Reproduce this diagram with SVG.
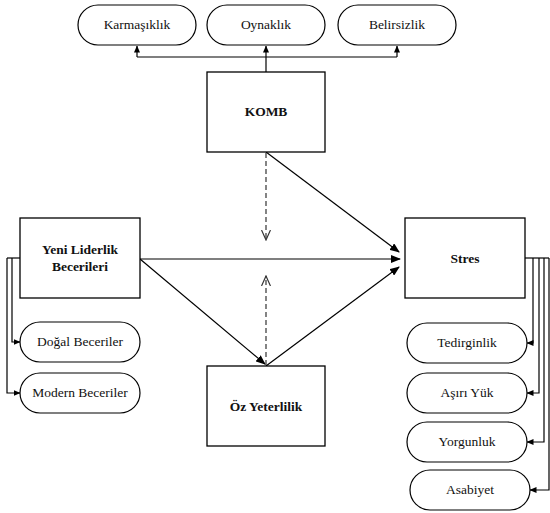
<svg xmlns="http://www.w3.org/2000/svg" width="550" height="513" viewBox="0 0 550 513">
<style>
.box{fill:#fff;stroke:#000;stroke-width:1.3}
.pill{fill:#fff;stroke:#000;stroke-width:1.2}
.b{font-weight:bold}
.ln{fill:none;stroke:#000;stroke-width:1.2}
.ds{fill:none;stroke:#333;stroke-width:1.2;stroke-dasharray:5,3}
</style>
<defs>
<marker id="ah" markerWidth="10" markerHeight="8" refX="9" refY="4" orient="auto" markerUnits="userSpaceOnUse">
<path d="M0,0 L10,4 L0,8 Z" fill="#000"/>
</marker>
<marker id="sm" markerWidth="7" markerHeight="6" refX="6.5" refY="3" orient="auto" markerUnits="userSpaceOnUse">
<path d="M0,0 L7,3 L0,6 Z" fill="#000"/>
</marker>
<marker id="op" markerWidth="11" markerHeight="10" refX="10" refY="5" orient="auto" markerUnits="userSpaceOnUse">
<path d="M0,0.5 L10,5 L0,9.5" fill="none" stroke="#333" stroke-width="1.2"/>
</marker>
</defs>

<g id="connectors">
<path class="ln" d="M266,72 V57"/>
<path class="ln" d="M137,57 H397"/>
<path class="ln" d="M137,57 V46" marker-end="url(#sm)"/>
<path class="ln" d="M266,57 V46" marker-end="url(#sm)"/>
<path class="ln" d="M397,57 V46" marker-end="url(#sm)"/>
<path class="ln" d="M266,152 L399,252" marker-end="url(#ah)"/>
<path class="ln" d="M140,259 H400" marker-end="url(#ah)"/>
<path class="ln" d="M140,259 L265,364" marker-end="url(#ah)"/>
<path class="ln" d="M266,366 L399,267" marker-end="url(#ah)"/>
<path class="ds" d="M266,153 V240" marker-end="url(#op)"/>
<path class="ds" d="M266,365 V276" marker-end="url(#op)"/>
<path class="ln" d="M20,258 H7"/>
<path class="ln" d="M12,258 V342 H20" marker-end="url(#sm)"/>
<path class="ln" d="M7,258 V393 H20" marker-end="url(#sm)"/>
<path class="ln" d="M525,258 H549"/>
<path class="ln" d="M533,258 V343 H527" marker-end="url(#sm)"/>
<path class="ln" d="M539,258 V393 H527" marker-end="url(#sm)"/>
<path class="ln" d="M544,258 V442 H527" marker-end="url(#sm)"/>
<path class="ln" d="M549,258 V490 H530" marker-end="url(#sm)"/>
</g>

<g font-family="Liberation Serif, DejaVu Serif, Times New Roman, serif" font-size="13.5" fill="#111" text-anchor="middle">
<g id="karmasiklik"><rect class="pill" x="78" y="5" width="118" height="40" rx="20"/><text x="137" y="29">Karmaşıklık</text></g>
<g id="oynaklik"><rect class="pill" x="207" y="5" width="118" height="40" rx="20"/><text x="266" y="29">Oynaklık</text></g>
<g id="belirsizlik"><rect class="pill" x="338" y="5" width="118" height="40" rx="20"/><text x="397" y="29">Belirsizlik</text></g>

<g id="komb"><rect class="box" x="207" y="72" width="118" height="80"/><text class="b" x="266" y="116">KOMB</text></g>
<g id="yeni"><rect class="box" x="20" y="218" width="120" height="80"/><text class="b" x="80" y="254">Yeni Liderlik</text><text class="b" x="80" y="271">Becerileri</text></g>
<g id="stres"><rect class="box" x="405" y="218" width="120" height="80"/><text class="b" x="465" y="263">Stres</text></g>
<g id="oz"><rect class="box" x="207" y="366" width="118" height="80"/><text class="b" x="266" y="411">Öz Yeterlilik</text></g>

<g id="dogal"><rect class="pill" x="20" y="322" width="120" height="40" rx="20"/><text x="80" y="346">Doğal Beceriler</text></g>
<g id="modern"><rect class="pill" x="20" y="373" width="120" height="40" rx="20"/><text x="80" y="397">Modern Beceriler</text></g>

<g id="tedirginlik"><rect class="pill" x="407" y="323" width="120" height="40" rx="20"/><text x="467" y="347">Tedirginlik</text></g>
<g id="asiri"><rect class="pill" x="407" y="373" width="120" height="40" rx="20"/><text x="467" y="397">Aşırı Yük</text></g>
<g id="yorgunluk"><rect class="pill" x="407" y="422" width="120" height="40" rx="20"/><text x="467" y="446">Yorgunluk</text></g>
<g id="asabiyet"><rect class="pill" x="410" y="470" width="120" height="40" rx="20"/><text x="470" y="494">Asabiyet</text></g>
</g>
</svg>
